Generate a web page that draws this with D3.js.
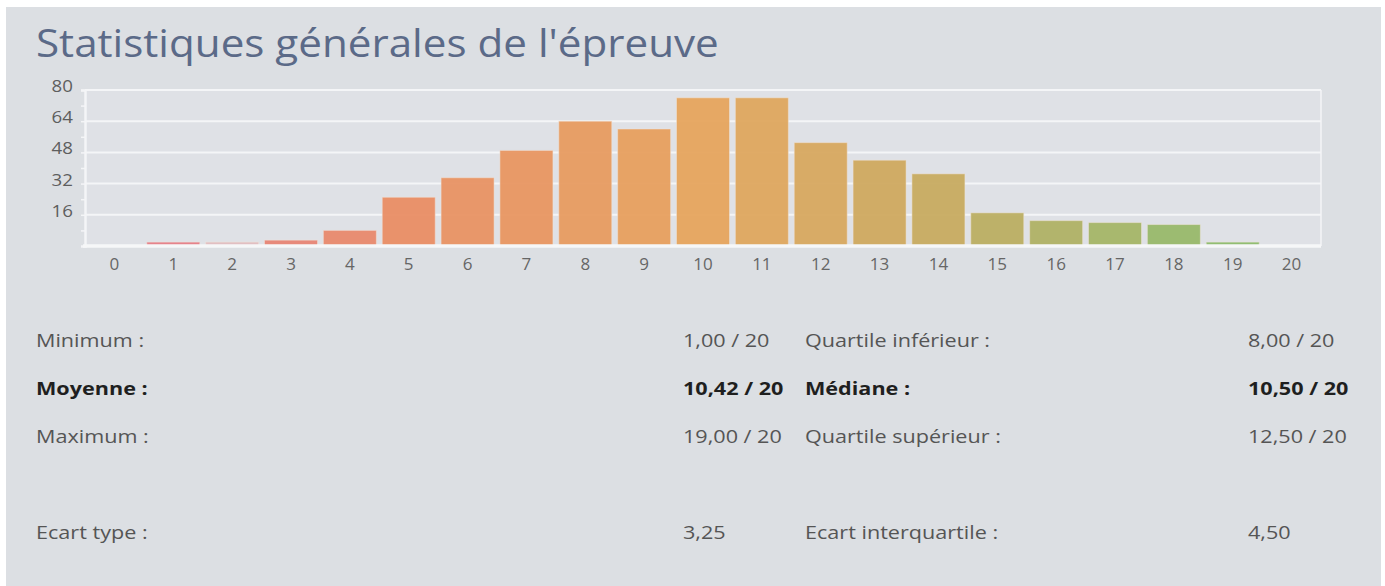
<!DOCTYPE html>
<html>
<head>
<meta charset="utf-8">
<script src="https://cdn.jsdelivr.net/npm/d3@7"></script>
<style>
  body { margin: 0; background: #fff; }
  svg { display: block; font-family: "Open Sans", sans-serif; }
</style>
</head>
<body>
<div id="root"></div>
<script>
// notes 0..20 and number of students per note
const notes = ["0","1","2","3","4","5","6","7","8","9","10","11","12","13","14","15","16","17","18","19","20"];
const effectifs = [0, 2, 2, 3, 8, 25, 35, 49, 64, 60, 76, 76, 53, 44, 37, 17, 13, 12, 11, 2, 0];
const yTicks = [16, 32, 48, 64, 80];

const titre = "Statistiques générales de l'épreuve";
const statsGauche = [
  { label: "Minimum :", valeur: "1,00 / 20", bold: false },
  { label: "Moyenne :", valeur: "10,42 / 20", bold: true },
  { label: "Maximum :", valeur: "19,00 / 20", bold: false },
  null,
  { label: "Ecart type :", valeur: "3,25", bold: false }
];
const statsDroite = [
  { label: "Quartile inférieur :", valeur: "8,00 / 20", bold: false },
  { label: "Médiane :", valeur: "10,50 / 20", bold: true },
  { label: "Quartile supérieur :", valeur: "12,50 / 20", bold: false },
  null,
  { label: "Ecart interquartile :", valeur: "4,50", bold: false }
];

const width = 1385, height = 586;
const svg = d3.select("#root").append("svg")
    .attr("width", width)
    .attr("height", height);

// grey panel
svg.append("rect")
    .attr("x", 6).attr("y", 7)
    .attr("width", 1375).attr("height", 579)
    .attr("fill", "#dcdfe3");

// the screenshot is a bit stretched sideways, so texts get a small scaleX
svg.append("text")
    .attr("transform", "translate(36,57) scale(1.11,1)")
    .attr("font-size", 38)
    .attr("fill", "#5b6a88")
    .text(titre);

const margin = { left: 85, right: 1321, top: 90, bottom: 246 };

const x = d3.scaleBand()
    .domain(notes)
    .range([margin.left, margin.right])
    .paddingInner(0.1)
    .paddingOuter(0.05);

const y = d3.scaleLinear()
    .domain([0, 80])
    .range([margin.bottom, margin.top]);

// colour goes from red to orange to green along the notes
const color = d3.scaleLinear()
    .domain([1, 5, 10, 14, 19])
    .range(["#e57d86", "#e98d64", "#e6a45d", "#c7ab60", "#8cbb6c"]);

const plot = svg.append("g");

plot.append("rect")
    .attr("x", margin.left).attr("y", margin.top)
    .attr("width", margin.right - margin.left)
    .attr("height", margin.bottom - margin.top)
    .attr("fill", "#dfe1e6");

// gridlines
plot.append("g")
    .selectAll("line")
    .data(yTicks)
    .join("line")
    .attr("x1", margin.left).attr("x2", margin.right)
    .attr("y1", d => y(d)).attr("y2", d => y(d))
    .attr("stroke", "#f4f5f7")
    .attr("stroke-width", 2);

// right border
plot.append("line")
    .attr("x1", margin.right).attr("x2", margin.right)
    .attr("y1", y(80)).attr("y2", y(0))
    .attr("stroke", "#f4f5f7")
    .attr("stroke-width", 1.5);

// bars
plot.append("g")
    .selectAll("rect")
    .data(effectifs)
    .join("rect")
    .attr("x", (d, i) => x(notes[i]))
    .attr("width", x.bandwidth())
    .attr("y", d => y(d))
    .attr("height", d => y(0) - y(d))
    .attr("fill", (d, i) => color(i))
    .attr("fill-opacity", (d, i) => notes[i] === "2" ? 0.35 : 0.95)
    .attr("stroke", "#f2e6dc")
    .attr("stroke-opacity", 0.5)
    .attr("stroke-width", 1);

// y axis
const yAxis = plot.append("g")
    .attr("transform", `translate(${margin.left},0)`)
    .call(d3.axisLeft(y).tickValues(d3.range(8, 81, 8)).tickSize(4).tickFormat(""));
yAxis.select(".domain").attr("stroke", "#f4f5f7").attr("stroke-width", 2.5);
yAxis.selectAll(".tick line").attr("stroke", "#f4f5f7").attr("stroke-width", 1.5);

plot.append("g")
    .selectAll("text")
    .data(yTicks)
    .join("text")
    .attr("transform", d => `translate(73,${y(d) + 2}) scale(1.1,1)`)
    .attr("text-anchor", "end")
    .attr("font-size", 17)
    .attr("fill", "#5e5e5e")
    .text(d => d);

// x axis
const xAxis = plot.append("g")
    .attr("transform", `translate(0,${margin.bottom})`)
    .call(d3.axisBottom(x).tickSize(0).tickPadding(10));
xAxis.select(".domain")
    .attr("d", `M${margin.left - 2},0H${margin.right}`)
    .attr("stroke", "#f6f7f8")
    .attr("stroke-width", 3.5);
xAxis.selectAll(".tick text")
    .attr("font-family", "Open Sans, sans-serif")
    .attr("font-size", 17)
    .attr("fill", "#666")
    .attr("dy", "0.85em");

// statistics table
const rowY = d3.scalePoint().domain(d3.range(5)).range([347, 539]);

function drawColumn(rows, xLabel, xValue) {
    const g = svg.append("g").attr("font-size", 18);
    rows.forEach((r, i) => {
        if (!r) return;
        [[xLabel, r.label], [xValue, r.valeur]].forEach(([px, txt]) => {
            g.append("text")
                .attr("transform", `translate(${px},${rowY(i)}) scale(1.2,1)`)
                .attr("fill", r.bold ? "#1f1f1f" : "#555")
                .attr("font-weight", r.bold ? 700 : 400)
                .text(txt);
        });
    });
}
drawColumn(statsGauche, 36, 683);
drawColumn(statsDroite, 805, 1248);
</script>
</body>
</html>
